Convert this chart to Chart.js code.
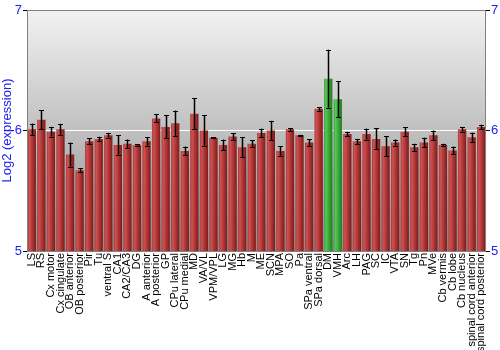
<!DOCTYPE html>
<html>
<head>
<meta charset="utf-8">
<script src="https://cdn.jsdelivr.net/npm/chart.js@4"></script>
<style>
	html, body { margin: 0; padding: 0; background: #fff; }
	#wrap { width: 500px; height: 350px; }
</style>
</head>
<body>
<div id="wrap"><canvas id="chart"></canvas></div>
<script>
// Регионы мозга
const regions = [
	'LS', 'RS', 'Cx motor', 'Cx cingulate', 'OB anterior', 'OB posterior', 'Pir', 'Tu',
	'ventral S', 'CA1', 'CA2/CA3', 'DG', 'A anterior', 'A posterior', 'GP', 'CPu lateral',
	'CPu medial', 'MD', 'VA/VL', 'VPM/VPL', 'LG', 'MG', 'Hb', 'M',
	'ME', 'SCN', 'MPA', 'SO', 'Pa', 'SPa ventral', 'SPa dorsal', 'DM',
	'VMH', 'Arc', 'LH', 'PAG', 'SC', 'IC', 'VTA', 'SN',
	'Tg', 'Pn', 'MVe', 'Cb vermis', 'Cb lobe', 'Cb nucleus', 'spinal cord anterior', 'spinal cord posterior'
];

// Log2 экспрессии
const expression = [
	6.01, 6.09, 5.99, 6.01, 5.80, 5.67, 5.91, 5.93,
	5.96, 5.88, 5.89, 5.88, 5.91, 6.10, 6.03, 6.06,
	5.83, 6.14, 6.00, 5.94, 5.88, 5.95, 5.86, 5.89,
	5.98, 6.00, 5.83, 6.01, 5.96, 5.90, 6.18, 6.43,
	6.26, 5.97, 5.91, 5.97, 5.93, 5.87, 5.90, 5.99,
	5.86, 5.90, 5.96, 5.88, 5.835, 6.01, 5.945, 6.03
];

// Погрешности (±)
const errors = [
	0.047, 0.077, 0.040, 0.045, 0.100, 0.018, 0.025, 0.018,
	0.020, 0.080, 0.035, 0.005, 0.035, 0.033, 0.095, 0.105,
	0.037, 0.130, 0.127, 0.005, 0.044, 0.028, 0.083, 0.028,
	0.035, 0.080, 0.040, 0.010, 0.004, 0.028, 0.015, 0.240,
	0.150, 0.018, 0.020, 0.045, 0.087, 0.083, 0.025, 0.039,
	0.030, 0.040, 0.040, 0.010, 0.032, 0.020, 0.037, 0.018
];

// Выделенные регионы (зелёные)
const highlighted = ['DM', 'VMH'];

const yTicks = [5, 6, 7];
const yMin = 5;
const yMax = 7;

const BAR_PCT = 0.87;
const BLUE = '#1c1cf4';

// Цилиндрическая заливка столбца
function barFill(ctx) {
	const chart = ctx.chart;
	const xs = chart.scales.x;
	const green = highlighted.includes(regions[ctx.dataIndex]);
	if (!xs || !isFinite(xs.width) || xs.width <= 0) return green ? '#3aa83a' : '#b03434';
	const cx = xs.getPixelForValue(ctx.dataIndex);
	const w = xs.width / regions.length * BAR_PCT;
	const g = chart.ctx.createLinearGradient(cx - w / 2, 0, cx + w / 2, 0);
	if (green) {
		g.addColorStop(0, '#3c9c3c');
		g.addColorStop(0.22, '#5cc45c');
		g.addColorStop(0.55, '#3aaa3a');
		g.addColorStop(1, '#1f7a1f');
	} else {
		g.addColorStop(0, '#a83a3a');
		g.addColorStop(0.22, '#cc5252');
		g.addColorStop(0.55, '#b23636');
		g.addColorStop(1, '#7a1c1c');
	}
	return g;
}

// Фон области графика и рамка
const plotBackground = {
	id: 'plotBackground',
	beforeDraw(chart) {
		const { ctx, chartArea: a } = chart;
		const g = ctx.createLinearGradient(0, a.top, 0, a.bottom);
		g.addColorStop(0, '#f2f2f2');
		g.addColorStop(1, '#8e8e8e');
		ctx.save();
		ctx.fillStyle = g;
		ctx.fillRect(a.left, a.top, a.right - a.left, a.bottom - a.top);
		ctx.restore();
	},
	afterDraw(chart) {
		const { ctx, chartArea: a } = chart;
		ctx.save();
		ctx.strokeStyle = '#808080';
		ctx.lineWidth = 1;
		ctx.strokeRect(Math.round(a.left) + 0.5, Math.round(a.top) + 0.5,
			Math.round(a.right - a.left) - 1, Math.round(a.bottom - a.top));
		ctx.restore();
	}
};

// Планки погрешностей
const errorBars = {
	id: 'errorBars',
	afterDatasetsDraw(chart) {
		const ctx = chart.ctx;
		const ys = chart.scales.y;
		const meta = chart.getDatasetMeta(0);
		ctx.save();
		meta.data.forEach((bar, i) => {
			const x = Math.round(bar.x) + 0.5;
			const top = ys.getPixelForValue(expression[i] + errors[i]);
			const bottom = ys.getPixelForValue(expression[i] - errors[i]);
			const cap = 2.5;
			ctx.strokeStyle = 'rgba(0,0,0,0.25)';
			ctx.lineWidth = 3;
			ctx.beginPath();
			ctx.moveTo(x, top);
			ctx.lineTo(x, bottom);
			ctx.stroke();
			ctx.strokeStyle = '#000';
			ctx.lineWidth = 1;
			ctx.beginPath();
			ctx.moveTo(x, top);
			ctx.lineTo(x, bottom);
			ctx.moveTo(x - cap, Math.round(top) + 0.5);
			ctx.lineTo(x + cap, Math.round(top) + 0.5);
			ctx.moveTo(x - cap, Math.round(bottom) + 0.5);
			ctx.lineTo(x + cap, Math.round(bottom) + 0.5);
			ctx.stroke();
		});
		ctx.restore();
	}
};

new Chart(document.getElementById('chart'), {
	type: 'bar',
	data: {
		labels: regions,
		datasets: [{
			label: 'Log2 (expression)',
			data: expression,
			backgroundColor: barFill,
			borderWidth: 0,
			barPercentage: BAR_PCT,
			categoryPercentage: 1.0
		}]
	},
	options: {
		responsive: true,
		maintainAspectRatio: false,
		animation: false,
		events: [],
		layout: { padding: { top: 10, left: 0, right: 0, bottom: 0 } },
		plugins: {
			legend: { display: false },
			tooltip: { enabled: false }
		},
		scales: {
			x: {
				grid: { display: false, drawTicks: false },
				border: { display: false },
				ticks: {
					autoSkip: false,
					maxRotation: 90,
					minRotation: 90,
					padding: 2,
					color: '#000',
					font: { family: 'Liberation Sans, Arial, sans-serif', size: 11 }
				},
				afterFit(scale) { scale.height = 99; }
			},
			y: {
				min: yMin,
				max: yMax,
				afterBuildTicks(scale) { scale.ticks = yTicks.map(v => ({ value: v })); },
				grid: {
					color: c => (c.tick && c.tick.value === 6 ? '#ffffff' : 'rgba(0,0,0,0)'),
					tickColor: '#000',
					tickLength: 4,
					lineWidth: 1
				},
				border: { display: false },
				ticks: {
					color: BLUE,
					padding: 1,
					font: { family: 'Liberation Sans, Arial, sans-serif', size: 13 }
				},
				title: {
					display: true,
					text: 'Log2 (expression)',
					color: BLUE,
					padding: 0,
					font: { family: 'Liberation Sans, Arial, sans-serif', size: 13 }
				},
				afterFit(scale) { scale.width = 27; }
			},
			y2: {
				position: 'right',
				min: yMin,
				max: yMax,
				afterBuildTicks(scale) { scale.ticks = yTicks.map(v => ({ value: v })); },
				grid: {
					drawOnChartArea: false,
					tickColor: '#000',
					tickLength: 4
				},
				border: { display: false },
				ticks: {
					color: BLUE,
					padding: 1,
					font: { family: 'Liberation Sans, Arial, sans-serif', size: 13 }
				},
				afterFit(scale) { scale.width = 14; }
			}
		}
	},
	plugins: [plotBackground, errorBars]
});
</script>
</body>
</html>
